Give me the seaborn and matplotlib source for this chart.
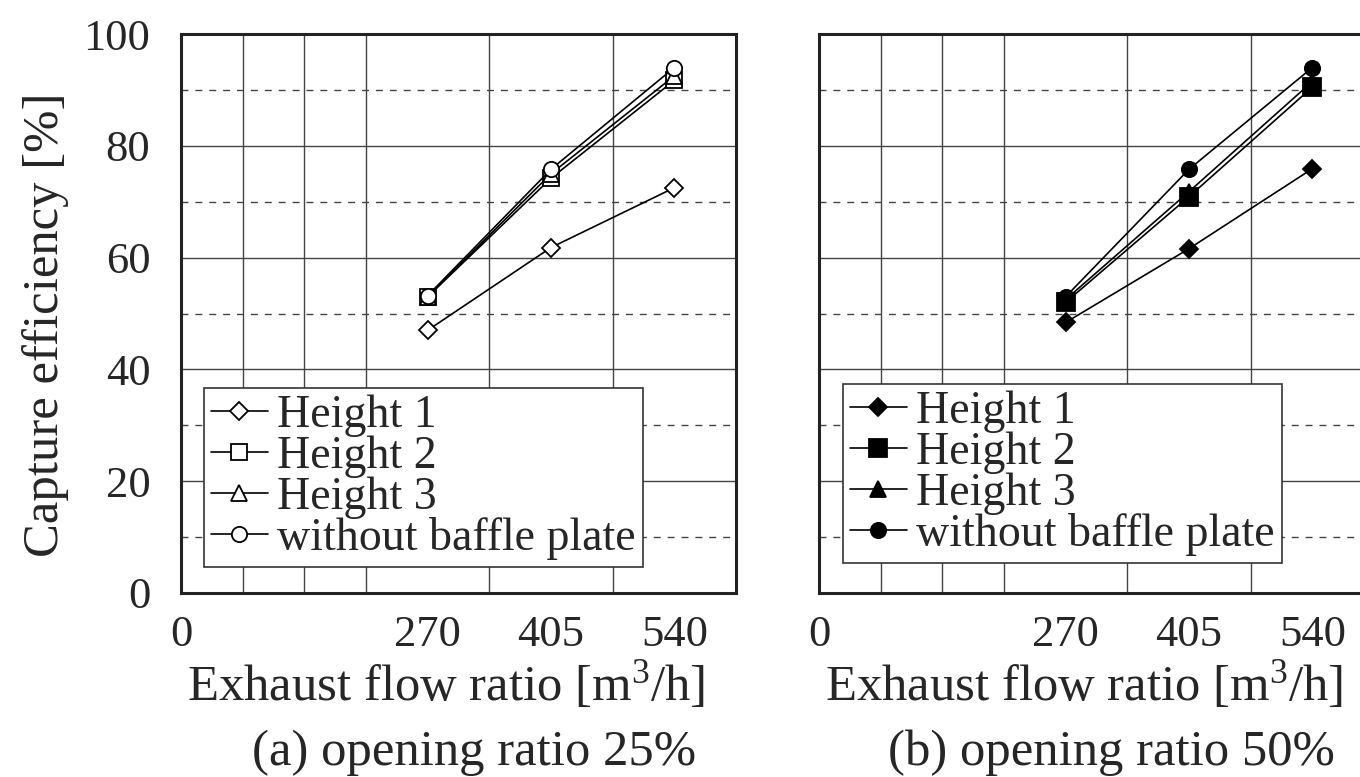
import numpy as np
import pandas as pd
import matplotlib
matplotlib.use('Agg')
import matplotlib.pyplot as plt
from matplotlib.ticker import MultipleLocator, FixedLocator
from matplotlib.lines import Line2D
import seaborn as sns

# data
flow = [270, 405, 540]
series_names = ['Height 1', 'Height 2', 'Height 3', 'without baffle plate']
markers = ['D', 's', '^', 'o']
msizes = [9, 11, 11, 11]

# (a) opening ratio 25%
a_h1 = [47.0, 61.8, 72.5]
a_h2 = [53.0, 74.2, 91.7]
a_h3 = [53.0, 75.0, 92.5]
a_wo = [53.2, 75.8, 94.0]

# (b) opening ratio 50%
b_h1 = [48.4, 61.6, 75.9]
b_h2 = [52.0, 70.9, 90.5]
b_h3 = [52.5, 71.8, 91.5]
b_wo = [53.0, 75.8, 94.0]

sns.set_style('white')
plt.rcParams['font.family'] = ['Liberation Serif', 'DejaVu Serif']
plt.rcParams['mathtext.fontset'] = 'custom'
plt.rcParams['mathtext.rm'] = 'Liberation Serif'

FS_TICK = 32
FS_LABEL = 36.5
FS_LEG = 33

fig = plt.figure(figsize=(13.6, 7.77), dpi=100)
ax_a = fig.add_axes([181 / 1360, 184 / 777, 555 / 1360, 559 / 777])
ax_b = fig.add_axes([819 / 1360, 184 / 777, 555 / 1360, 559 / 777])


def draw_panel(ax, values, filled, leg_anchor):
    face = 'black' if filled else 'white'
    sizes = [13 if (filled and mk == 's') else ms for mk, ms in zip(markers, msizes)]
    for name, vals, mk, ms in zip(series_names, values, markers, sizes):
        df = pd.DataFrame({'flow': flow, 'eff': vals})
        sns.lineplot(data=df, x='flow', y='eff', ax=ax, color='black',
                     marker=mk, markersize=ms, markerfacecolor=face,
                     markeredgecolor='black', markeredgewidth=1.3,
                     linewidth=1.2, legend=False, zorder=3)

    ax.set_xlim(0, 607.5)
    ax.set_ylim(0, 100)
    ax.xaxis.set_major_locator(FixedLocator([0, 270, 405, 540]))
    ax.xaxis.set_minor_locator(MultipleLocator(67.5))
    ax.yaxis.set_major_locator(MultipleLocator(20))
    ax.yaxis.set_minor_locator(FixedLocator([10, 30, 50, 70, 90]))
    ax.grid(False)
    ax.grid(True, which='minor', axis='x', color='#444444', lw=1.0)
    ax.grid(True, which='major', axis='y', color='#444444', lw=1.0)
    ax.grid(True, which='minor', axis='y', color='#444444', lw=1.0,
            linestyle=(0, (5, 5)))
    ax.set_axisbelow(True)
    for sp in ax.spines.values():
        sp.set_visible(True)
        sp.set_linewidth(2.2)
        sp.set_color('#222222')
    ax.tick_params(which='both', length=0, labelsize=FS_TICK)
    ax.tick_params(axis='x', pad=16)
    ax.tick_params(axis='y', pad=22)

    ax.set_xlabel('Exhaust flow ratio [m$\\mathregular{^3}$/h]', fontsize=FS_LABEL)
    ax.xaxis.set_label_coords(0.478, -0.165)
    ax.xaxis.label.set_va('center')

    handles = [Line2D([0], [0], color='black', lw=1.2, marker=mk,
                      markersize=ms, markerfacecolor=face,
                      markeredgecolor='black', markeredgewidth=1.3)
               for mk, ms in zip(markers, sizes)]
    leg = ax.legend(handles, series_names, loc='lower left',
                    bbox_to_anchor=leg_anchor,
                    fontsize=FS_LEG, frameon=True, fancybox=False,
                    edgecolor='#333333', framealpha=1,
                    handlelength=1.25, handletextpad=0.2,
                    labelspacing=-0.04, borderpad=0.15, borderaxespad=0)
    leg.get_frame().set_linewidth(1.2)


draw_panel(ax_a, [a_h1, a_h2, a_h3, a_wo], filled=False, leg_anchor=(0.041, 0.047))
draw_panel(ax_b, [b_h1, b_h2, b_h3, b_wo], filled=True, leg_anchor=(0.043, 0.054))

ax_a.set_ylabel('Capture efficiency [%]', fontsize=FS_LABEL)
ax_a.yaxis.set_label_coords(-0.245, 0.479)
ax_a.yaxis.label.set_va('center')
ax_b.set_ylabel('')
ax_b.set_yticklabels([])

fig.text(474 / 1360, 1 - 753 / 777, '(a) opening ratio 25%', fontsize=FS_LABEL,
         ha='center', va='center')
fig.text(1111 / 1360, 1 - 753 / 777, '(b) opening ratio 50%', fontsize=FS_LABEL,
         ha='center', va='center')

fig.savefig('out.png', dpi=100)
